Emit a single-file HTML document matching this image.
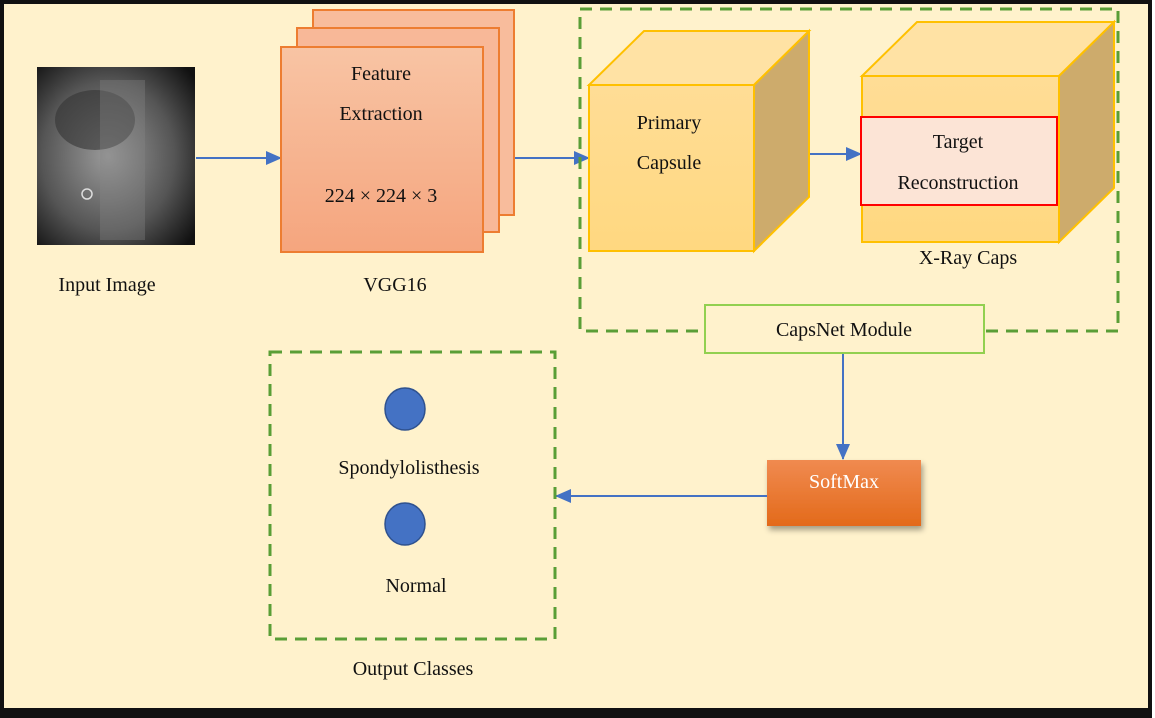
<!DOCTYPE html>
<html><head><meta charset="utf-8"><style>
html,body{margin:0;padding:0;background:#fff;}
svg{display:block;}
text{font-family:"Liberation Serif",serif;font-size:20px;fill:#111;}
</style></head><body>
<svg width="1155" height="718" viewBox="0 0 1155 718" xmlns="http://www.w3.org/2000/svg">
<defs>
<linearGradient id="vg" x1="0" y1="0" x2="0" y2="1"><stop offset="0" stop-color="#f8c4a4"/><stop offset="1" stop-color="#f5a57e"/></linearGradient>
<linearGradient id="cf" x1="0" y1="0" x2="0" y2="1"><stop offset="0" stop-color="#ffdd96"/><stop offset="1" stop-color="#ffd880"/></linearGradient>
<linearGradient id="sm" x1="0" y1="0" x2="0" y2="1"><stop offset="0" stop-color="#f08a50"/><stop offset="1" stop-color="#e36a1a"/></linearGradient>
<radialGradient id="xr" cx="0.45" cy="0.5" r="0.7"><stop offset="0" stop-color="#9a9a9a"/><stop offset="0.6" stop-color="#555"/><stop offset="1" stop-color="#111"/></radialGradient>
<filter id="sh" x="-10%" y="-10%" width="130%" height="140%"><feDropShadow dx="2" dy="4" stdDeviation="3" flood-color="#000" flood-opacity="0.35"/></filter>
<marker id="ar" markerWidth="16" markerHeight="14" refX="15" refY="7" orient="auto" markerUnits="userSpaceOnUse"><path d="M0,0 L16,7 L0,14 Z" fill="#4472c4"/></marker>
</defs>
<rect x="0" y="0" width="1152" height="718" fill="#111"/>
<rect x="4" y="4" width="1144" height="704" fill="#fff2cc"/>

<rect x="37" y="67" width="158" height="178" fill="url(#xr)"/>
<ellipse cx="95" cy="120" rx="40" ry="30" fill="#333" opacity="0.6"/>
<rect x="100" y="80" width="45" height="160" fill="#888" opacity="0.35"/>
<circle cx="87" cy="194" r="5" fill="none" stroke="#ddd" stroke-width="1.5"/>
<text x="107" y="291" text-anchor="middle">Input Image</text>

<line x1="196" y1="158" x2="281" y2="158" stroke="#4472c4" stroke-width="2" marker-end="url(#ar)"/>
<line x1="515" y1="158" x2="589" y2="158" stroke="#4472c4" stroke-width="2" marker-end="url(#ar)"/>

<rect x="313" y="10" width="201" height="205" fill="#f8bc9c" stroke="#ed7d31" stroke-width="2"/>
<rect x="297" y="28" width="202" height="204" fill="#f8b898" stroke="#ed7d31" stroke-width="2"/>
<rect x="281" y="47" width="202" height="205" fill="url(#vg)" stroke="#ed7d31" stroke-width="2"/>
<text x="381" y="80" text-anchor="middle">Feature</text>
<text x="381" y="120" text-anchor="middle">Extraction</text>
<text x="381" y="202" text-anchor="middle">224 × 224 × 3</text>
<text x="395" y="291" text-anchor="middle">VGG16</text>

<rect x="580" y="9" width="538" height="322" fill="none" stroke="#5a9e36" stroke-width="3" stroke-dasharray="12,8"/>

<polygon points="589,85 644,31 809,31 754,85" fill="#ffe2a4" stroke="#ffc000" stroke-width="2"/>
<polygon points="754,85 809,31 809,197 754,251" fill="#cdab6c" stroke="#ffc000" stroke-width="2"/>
<rect x="589" y="85" width="165" height="166" fill="url(#cf)" stroke="#ffc000" stroke-width="2"/>
<text x="669" y="129" text-anchor="middle">Primary</text>
<text x="669" y="169" text-anchor="middle">Capsule</text>

<line x1="810" y1="154" x2="861" y2="154" stroke="#4472c4" stroke-width="2" marker-end="url(#ar)"/>

<polygon points="862,76 917,22 1114,22 1059,76" fill="#ffe2a4" stroke="#ffc000" stroke-width="2"/>
<polygon points="1059,76 1114,22 1114,188 1059,242" fill="#cdab6c" stroke="#ffc000" stroke-width="2"/>
<rect x="862" y="76" width="197" height="166" fill="url(#cf)" stroke="#ffc000" stroke-width="2"/>
<rect x="861" y="117" width="196" height="88" fill="#fce4d6" stroke="#ff0000" stroke-width="2"/>
<text x="958" y="148" text-anchor="middle">Target</text>
<text x="958" y="189" text-anchor="middle">Reconstruction</text>
<text x="968" y="264" text-anchor="middle">X-Ray Caps</text>

<rect x="705" y="305" width="279" height="48" fill="#fff2cc" stroke="#92d050" stroke-width="2"/>
<text x="844" y="336" text-anchor="middle">CapsNet Module</text>

<line x1="843" y1="354" x2="843" y2="459" stroke="#4472c4" stroke-width="2" marker-end="url(#ar)"/>

<rect x="767" y="460" width="154" height="66" fill="url(#sm)" filter="url(#sh)"/>
<text x="844" y="488" text-anchor="middle" style="fill:#fff">SoftMax</text>

<line x1="767" y1="496" x2="556" y2="496" stroke="#4472c4" stroke-width="2" marker-end="url(#ar)"/>

<rect x="270" y="352" width="285" height="287" fill="none" stroke="#5a9e36" stroke-width="3" stroke-dasharray="12,8"/>
<ellipse cx="405" cy="409" rx="20" ry="21" fill="#4472c4" stroke="#2f528f" stroke-width="1.5"/>
<text x="409" y="474" text-anchor="middle">Spondylolisthesis</text>
<ellipse cx="405" cy="524" rx="20" ry="21" fill="#4472c4" stroke="#2f528f" stroke-width="1.5"/>
<text x="416" y="592" text-anchor="middle">Normal</text>
<text x="413" y="675" text-anchor="middle">Output Classes</text>
</svg>
</body></html>
